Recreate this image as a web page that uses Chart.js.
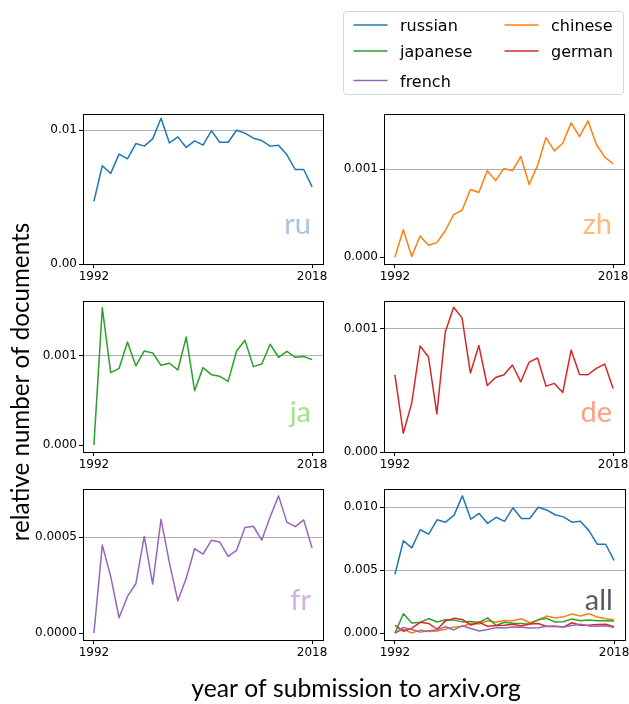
<!DOCTYPE html>
<html><head><meta charset="utf-8">
<script src="https://cdn.jsdelivr.net/npm/chart.js@4.4.1/dist/chart.umd.min.js"></script>
<style>
html,body{margin:0;padding:0;background:#fff;overflow:hidden;}
#wrap{position:relative;width:629px;height:704px;overflow:hidden;background:#fff;}
#wrap canvas{position:absolute;}
</style></head><body><div id="wrap"></div>
<script>
// ---------------- data ----------------
const years = [1992,1993,1994,1995,1996,1997,1998,1999,2000,2001,2002,2003,2004,2005,2006,2007,2008,2009,2010,2011,2012,2013,2014,2015,2016,2017,2018];
const russian = [0.00468,0.00734,0.00677,0.00821,0.00786,0.00900,0.00881,0.00935,0.01090,0.00905,0.00950,0.00871,0.00920,0.00888,0.00995,0.00910,0.00910,0.01000,0.00978,0.00940,0.00923,0.00881,0.00888,0.00816,0.00706,0.00706,0.00577];
const chinese = [0.0,0.000311,0.000008,0.00024,0.000135,0.000165,0.0003,0.000483,0.000532,0.000768,0.000734,0.000981,0.000869,0.001007,0.000981,0.001142,0.000824,0.001041,0.001356,0.001206,0.001292,0.001524,0.001367,0.001547,0.001281,0.001135,0.00106];
const japanese = [0.0,0.001539,0.000813,0.000861,0.001157,0.000888,0.001056,0.001034,0.000895,0.000918,0.000843,0.001213,0.00061,0.000869,0.00079,0.000772,0.000715,0.001056,0.001176,0.00088,0.00091,0.001131,0.000985,0.001052,0.000985,0.000993,0.000959];
const german = [0.000626,0.000152,0.000396,0.000859,0.00077,0.000309,0.000973,0.001173,0.001087,0.00064,0.000864,0.000539,0.000604,0.000626,0.000705,0.000569,0.000729,0.000762,0.000534,0.000556,0.000482,0.000827,0.000629,0.000626,0.000678,0.000713,0.000515];
const french = [0.0,0.000458,0.000295,0.00008,0.000191,0.000257,0.000503,0.000255,0.000592,0.000365,0.000168,0.000285,0.000439,0.000411,0.000483,0.000474,0.000399,0.000431,0.000549,0.000556,0.000484,0.000604,0.000714,0.000576,0.000554,0.000589,0.000443];

const seriesNames = ['russian','chinese','japanese','german','french'];
const seriesColors = ['#1f77b4','#ff7f0e','#2ca02c','#d62728','#9467bd'];
const panelCodes = ['ru','zh','ja','de','fr','all'];
const panelCodeColors = ['#a9c3e6','#ffbb78','#a6e08f','#f6a38a','#cbb5e3','#5f5668'];
const xTicks = [1992, 2018];
const ruTicks = [0, 0.01];       const ruTickLabels = ['0.00','0.01'];
const zhTicks = [0, 0.001];      const zhTickLabels = ['0.000','0.001'];
const jaTicks = [0, 0.001];      const jaTickLabels = ['0.000','0.001'];
const deTicks = [0, 0.001];      const deTickLabels = ['0.000','0.001'];
const frTicks = [0, 0.0005];     const frTickLabels = ['0.0000','0.0005'];
const allTicks = [0, 0.005, 0.01]; const allTickLabels = ['0.000','0.005','0.010'];
const legendOrder = ['russian','japanese','french','chinese','german'];
const xTitle = 'year of submission to arxiv.org';
const yTitle = 'relative number of documents';

// ---------------- helpers ----------------
const wrap = document.getElementById('wrap');
function addCanvas(x, y, w, h) {
  const c = document.createElement('canvas');
  c.width = w; c.height = h;
  c.style.left = x + 'px'; c.style.top = y + 'px';
  c.style.width = w + 'px'; c.style.height = h + 'px';
  wrap.appendChild(c);
  return c;
}
function al(p) { return Math.round(p - 0.5) + 0.5; }
const TICKFONT = {family: "'DejaVu Sans'", size: 12};
const seriesData = {russian, chinese, japanese, german, french};

function xyPoints(vals) { return years.map((y, i) => ({x: y, y: vals[i]})); }
function limits(valsList, zeroBottom) {
  let mn = Infinity, mx = -Infinity;
  valsList.forEach(v => v.forEach(d => { mn = Math.min(mn, d); mx = Math.max(mx, d); }));
  const r = mx - mn;
  return {min: zeroBottom ? 0 : mn - 0.05 * r, max: mx + 0.05 * r};
}
const xMin = years[0] - 0.05 * (years[years.length-1] - years[0]);
const xMax = years[years.length-1] + 0.05 * (years[years.length-1] - years[0]);

const framePlugin = {
  id: 'frame',
  afterDraw(chart) {
    const {ctx, chartArea: a} = chart;
    ctx.save();
    ctx.strokeStyle = '#000'; ctx.lineWidth = 1;
    const l = al(a.left), r = al(a.right), t = al(a.top), b = al(a.bottom);
    ctx.strokeRect(l, t, r - l, b - t);
    ctx.restore();
  }
};

function makePanel(px, py, pw, ph, names, ticks, tickLabels, zeroBottom, code, codeColor) {
  const YW = 70, PR = 14, PT = 14, XH = 24;
  const W = YW + pw + PR, H = PT + ph + XH;
  const canvas = addCanvas(px - YW, py - PT, W, H);
  const lim = limits(names.map(n => seriesData[n]), zeroBottom);
  const datasets = names.map((n) => {
    const idx = seriesNames.indexOf(n);
    return {
      label: n, data: xyPoints(seriesData[n]),
      borderColor: seriesColors[idx], backgroundColor: seriesColors[idx],
      borderWidth: 1.5, pointRadius: 0, fill: false, tension: 0,
      borderJoinStyle: 'round', order: 10 - idx
    };
  });
  const codePlugin = {
    id: 'code',
    afterDatasetsDraw(chart) {
      const {ctx, chartArea: a} = chart;
      ctx.save();
      ctx.font = '29px Lato';
      ctx.fillStyle = codeColor;
      ctx.textAlign = 'right'; ctx.textBaseline = 'alphabetic';
      ctx.fillText(code, a.right - 0.05 * (a.right - a.left), a.bottom - 0.2 * (a.bottom - a.top));
      ctx.restore();
    }
  };
  new Chart(canvas, {
    type: 'line',
    data: {datasets},
    options: {
      responsive: false, animation: false,
      layout: {padding: {left: 0, top: PT, right: PR, bottom: 0}},
      plugins: {legend: {display: false}, tooltip: {enabled: false}},
      scales: {
        x: {
          type: 'linear', min: xMin, max: xMax,
          afterBuildTicks: s => { s.ticks = xTicks.map(v => ({value: v})); },
          afterFit: s => { s.height = XH; },
          ticks: {autoSkip: false, maxRotation: 0, font: TICKFONT, color: '#000', padding: 2,
                  callback: v => String(v)},
          grid: {display: true, drawOnChartArea: false, drawTicks: true, tickLength: 4, color: '#000', tickColor: '#000'},
          border: {display: true, color: '#000', width: 1}
        },
        y: {
          type: 'linear', min: lim.min, max: lim.max,
          afterBuildTicks: s => { s.ticks = ticks.map(v => ({value: v})); },
          afterFit: s => { s.width = YW; },
          ticks: {autoSkip: false, font: TICKFONT, color: '#000', padding: 2,
                  callback: (v, i) => tickLabels[i]},
          grid: {display: true, drawTicks: true, tickLength: 4, lineWidth: 1,
                 color: c => (c.tick && c.tick.value === 0) ? 'rgba(0,0,0,0)' : '#b0b0b0',
                 tickColor: '#000'},
          border: {display: true, color: '#000', width: 1}
        }
      }
    },
    plugins: [codePlugin, framePlugin]
  });
}

// ---------------- background chart: axis titles + legend ----------------
(function () {
  const OFF = 50;
  const canvas = addCanvas(-OFF, 0, 629 + 100, 704);
  const legendPlugin = {
    id: 'figLegend',
    afterDraw(chart) {
      const ctx = chart.ctx;
      ctx.save();
      ctx.translate(OFF, 0);
      ctx.beginPath();
      if (ctx.roundRect) ctx.roundRect(343.5, 11.5, 280, 83, 3); else ctx.rect(343.5, 11.5, 280, 83);
      ctx.fillStyle = 'rgba(255,255,255,0.8)'; ctx.fill();
      ctx.strokeStyle = '#d6d6d6'; ctx.lineWidth = 1; ctx.stroke();
      const colX = [353.5, 504.5];
      const rowY = [25, 51, 80.5];
      ctx.font = "16px 'DejaVu Sans'";
      ctx.textBaseline = 'alphabetic'; ctx.textAlign = 'left';
      legendOrder.forEach((name, i) => {
        const col = i < 3 ? 0 : 1, row = i < 3 ? i : i - 3;
        const x = colX[col], y = rowY[row];
        ctx.strokeStyle = seriesColors[seriesNames.indexOf(name)];
        ctx.lineWidth = 1.5;
        ctx.beginPath(); ctx.moveTo(x, y); ctx.lineTo(x + 34, y); ctx.stroke();
        ctx.fillStyle = '#000';
        ctx.fillText(name, x + 46.5, y + 6);
      });
      ctx.restore();
    }
  };
  new Chart(canvas, {
    type: 'line',
    data: {datasets: []},
    options: {
      responsive: false, animation: false,
      layout: {padding: {left: 57, right: 3, top: 89.8, bottom: 0}},
      plugins: {legend: {display: false}, tooltip: {enabled: false}},
      scales: {
        x: {type: 'linear', min: 0, max: 1, ticks: {display: false}, grid: {display: false, drawTicks: false},
            border: {display: false},
            title: {display: true, text: xTitle, font: {family: 'Lato', size: 24.7}, color: '#000', padding: 0}},
        y: {type: 'linear', min: 0, max: 1, ticks: {display: false}, grid: {display: false, drawTicks: false},
            border: {display: false},
            title: {display: true, text: yTitle, font: {family: 'Lato', size: 24.2}, color: '#000', padding: 0}}
      }
    },
    plugins: [legendPlugin]
  });
})();

// ---------------- panels ----------------
makePanel(83, 114, 240, 150, ['russian'], ruTicks, ruTickLabels, true, panelCodes[0], panelCodeColors[0]);
makePanel(384, 114, 240, 150, ['chinese'], zhTicks, zhTickLabels, false, panelCodes[1], panelCodeColors[1]);
makePanel(83, 301, 240, 151, ['japanese'], jaTicks, jaTickLabels, false, panelCodes[2], panelCodeColors[2]);
makePanel(384, 301, 240, 151, ['german'], deTicks, deTickLabels, true, panelCodes[3], panelCodeColors[3]);
makePanel(83, 489, 240, 151, ['french'], frTicks, frTickLabels, false, panelCodes[4], panelCodeColors[4]);
makePanel(384, 489, 241, 151, seriesNames, allTicks, allTickLabels, false, panelCodes[5], panelCodeColors[5]);
</script>
</body></html>
